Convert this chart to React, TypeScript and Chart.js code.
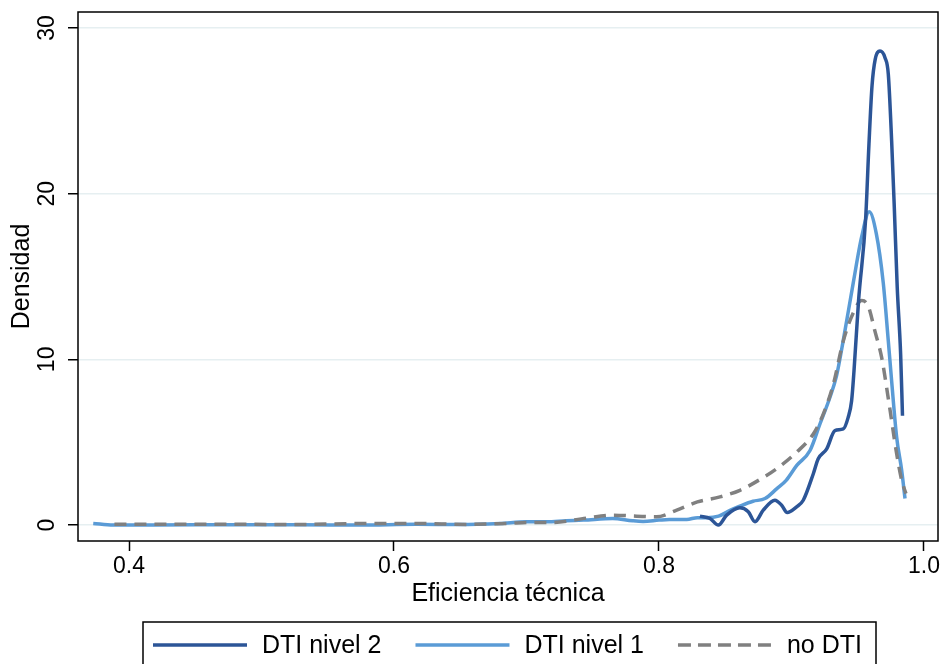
import React, { useEffect, useRef } from "react";
import { Chart, registerables } from "chart.js";

Chart.register(...registerables);

// DTI nivel 2
const nivel2X = [0.8309, 0.8385, 0.8448, 0.8511, 0.8611, 0.8674, 0.8725, 0.8787, 0.8875, 0.8926, 0.8968, 0.9039, 0.9089, 0.9165, 0.9202, 0.9266, 0.9328, 0.9391, 0.9428, 0.9454, 0.9472, 0.9506, 0.956, 0.9585, 0.9608, 0.9632, 0.9668, 0.9706, 0.9731, 0.9756, 0.9776, 0.9798, 0.9824, 0.9838];
const nivel2Y = [0.54, 0.4, 0.0, 0.6, 1.04, 0.8, 0.2, 0.9, 1.5, 1.2, 0.76, 1.1, 1.5, 3.1, 4.0, 4.6, 5.7, 5.8, 6.5, 7.5, 9.3, 13.5, 18.5, 23.0, 26.5, 28.1, 28.6, 28.2, 27.2, 23.2, 19.2, 14.4, 10.3, 6.6];

// DTI nivel 1
const nivel1X = [0.373, 0.388, 0.45, 0.53, 0.574, 0.617, 0.65, 0.68, 0.7, 0.715, 0.73, 0.743, 0.765, 0.78, 0.788, 0.8, 0.808, 0.821, 0.829, 0.836, 0.845, 0.854, 0.861, 0.871, 0.88, 0.889, 0.896, 0.904, 0.914, 0.9215, 0.929, 0.934, 0.939, 0.9466, 0.953, 0.9587, 0.964, 0.9693, 0.9731, 0.9756, 0.9794, 0.9832, 0.9857];
const nivel1Y = [0.1, 0.0, 0.02, 0.02, 0.0, 0.05, 0.03, 0.1, 0.2, 0.2, 0.26, 0.3, 0.4, 0.26, 0.22, 0.3, 0.34, 0.34, 0.45, 0.45, 0.54, 0.9, 1.14, 1.44, 1.6, 2.2, 2.7, 3.6, 4.5, 6.1, 7.7, 9.0, 11.1, 14.6, 17.4, 18.9, 17.6, 14.6, 11.1, 8.7, 5.3, 3.3, 1.6];

// no DTI
const noDtiX = [0.389, 0.45, 0.529, 0.579, 0.617, 0.655, 0.685, 0.705, 0.72, 0.745, 0.765, 0.783, 0.798, 0.8134, 0.829, 0.846, 0.8611, 0.8762, 0.8888, 0.9039, 0.9165, 0.924, 0.9316, 0.9391, 0.9466, 0.953, 0.958, 0.963, 0.9681, 0.9743, 0.9794, 0.9832, 0.9864];
const noDtiY = [0.05, 0.05, 0.04, 0.1, 0.1, 0.04, 0.1, 0.16, 0.16, 0.42, 0.6, 0.54, 0.5, 0.9, 1.4, 1.7, 2.1, 2.75, 3.4, 4.4, 5.5, 6.7, 8.5, 11.1, 12.8, 13.55, 13.2, 11.7, 10.1, 7.0, 4.3, 2.7, 1.9];

const xTicks = [0.4, 0.6, 0.8, 1.0];
const xTickLabels = ["0.4", "0.6", "0.8", "1.0"];
const yTicks = [0, 10, 20, 30];
const yTickLabels = ["0", "10", "20", "30"];

const seriesNames = ["DTI nivel 2", "DTI nivel 1", "no DTI"];
const seriesColors = ["#2c5597", "#5a9bd6", "#808080"];

const xTitle = "Eficiencia técnica";
const yTitle = "Densidad";

const FONT = "'Liberation Sans', Arial, Helvetica, sans-serif";

export default function App() {
  const ref = useRef<HTMLCanvasElement>(null);

  useEffect(() => {
    if (!ref.current) return;
    const toPts = (xs: number[], ys: number[]) => xs.map((x, i) => ({ x, y: ys[i] }));

    const decor = {
      id: "decor",
      afterDraw(chart: any) {
        const { ctx, chartArea: a } = chart;
        ctx.save();
        // frame
        ctx.strokeStyle = "#000";
        ctx.lineWidth = 1.5;
        ctx.strokeRect(a.left, a.top, a.right - a.left, a.bottom - a.top);
        // rotated y tick labels
        const ys = chart.scales.y;
        ctx.fillStyle = "#000";
        ctx.font = `23px ${FONT}`;
        ctx.textAlign = "center";
        ctx.textBaseline = "middle";
        yTicks.forEach((v, i) => {
          const py = ys.getPixelForValue(v);
          ctx.save();
          ctx.translate(48, py);
          ctx.rotate(-Math.PI / 2);
          ctx.fillText(yTickLabels[i], 0, 0);
          ctx.restore();
        });
        // legend
        ctx.lineWidth = 1.5;
        ctx.strokeStyle = "#000";
        ctx.strokeRect(143, 622, 733, 70);
        ctx.font = `25px ${FONT}`;
        ctx.textAlign = "left";
        ctx.textBaseline = "middle";
        let x0 = 153;
        const ly = 645;
        seriesNames.forEach((name, i) => {
          ctx.beginPath();
          ctx.strokeStyle = seriesColors[i];
          ctx.lineWidth = 3.5;
          ctx.setLineDash(i === 2 ? [13, 7] : []);
          ctx.moveTo(x0, ly);
          ctx.lineTo(x0 + 94, ly);
          ctx.stroke();
          ctx.setLineDash([]);
          ctx.fillStyle = "#000";
          ctx.fillText(name, x0 + 109, ly + 1);
          x0 = x0 + 109 + ctx.measureText(name).width + 34;
        });
        ctx.restore();
      },
    };

    const chart = new Chart(ref.current, {
      type: "line",
      data: {
        datasets: [
          {
            label: seriesNames[0],
            data: toPts(nivel2X, nivel2Y),
            borderColor: seriesColors[0],
            borderWidth: 3.5,
            pointRadius: 0,
            cubicInterpolationMode: "monotone",
          },
          {
            label: seriesNames[2],
            data: toPts(noDtiX, noDtiY),
            borderColor: seriesColors[2],
            borderWidth: 3.5,
            borderDash: [12, 8],
            pointRadius: 0,
            cubicInterpolationMode: "monotone",
          },
          {
            label: seriesNames[1],
            data: toPts(nivel1X, nivel1Y),
            borderColor: seriesColors[1],
            borderWidth: 3.5,
            pointRadius: 0,
            cubicInterpolationMode: "monotone",
          },
        ],
      },
      options: {
        animation: false,
        responsive: false,
        devicePixelRatio: 1,
        layout: { padding: { left: 0, top: 12, right: 5, bottom: 53 } },
        plugins: { legend: { display: false }, tooltip: { enabled: false } },
        scales: {
          x: {
            type: "linear",
            min: 0.3615,
            max: 1.0106,
            afterBuildTicks: (s: any) => {
              s.ticks = xTicks.map((v) => ({ value: v }));
            },
            afterFit: (s: any) => {
              s.height = 70;
            },
            ticks: {
              color: "#000",
              font: { family: FONT, size: 23 },
              padding: 2,
              maxRotation: 0,
              callback: (v: any) => {
                const i = xTicks.indexOf(Number(v));
                return i >= 0 ? xTickLabels[i] : "";
              },
            },
            grid: {
              drawOnChartArea: false,
              drawTicks: true,
              tickLength: 10,
              tickColor: "#000",
              tickWidth: 1.5,
            },
            border: { display: false },
            title: {
              display: true,
              text: xTitle,
              color: "#000",
              font: { family: FONT, size: 25 },
              padding: { top: 0, bottom: 2 },
            },
          },
          y: {
            type: "linear",
            min: -0.96,
            max: 30.96,
            afterBuildTicks: (s: any) => {
              s.ticks = yTicks.map((v) => ({ value: v }));
            },
            afterFit: (s: any) => {
              s.width = 78;
            },
            ticks: { display: false },
            grid: {
              color: "#e6eff1",
              lineWidth: 1.5,
              drawTicks: true,
              tickLength: 10,
              tickColor: "#000",
              tickWidth: 1.5,
            },
            border: { display: false },
            title: {
              display: true,
              text: yTitle,
              color: "#000",
              font: { family: FONT, size: 25 },
              padding: { top: 7, bottom: 0 },
            },
          },
        },
      },
      plugins: [decor],
    });
    return () => chart.destroy();
  }, []);

  return (
    <div style={{ position: "fixed", left: 0, top: 0, width: 943, height: 664, background: "#fff" }}>
      <canvas ref={ref} width={943} height={664} style={{ display: "block" }} />
    </div>
  );
}
